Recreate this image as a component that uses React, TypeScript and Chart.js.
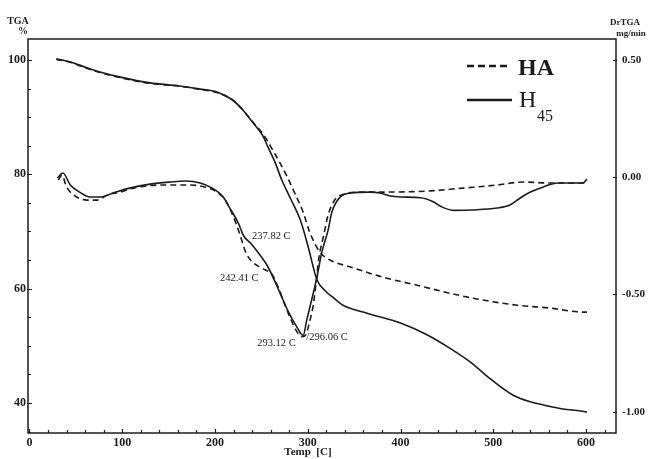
import React, { useEffect, useRef } from "react";
import { Chart, registerables } from "chart.js";

Chart.register(...registerables);

// ---- Data ----
// TGA (left axis, %)
const tgaH45Temp = [29, 44, 54, 76, 98, 130, 162, 184, 202, 219, 230, 241, 251, 257, 265, 272, 281, 292, 300, 310, 319, 327, 338, 364, 400, 429, 453, 475, 497, 521, 540, 558, 575, 594, 601];
const tgaH45Values = [100.2, 99.65, 99.1, 97.9, 97.0, 96.0, 95.45, 94.9, 94.4, 93.0, 91.25, 89.0, 86.9, 84.8, 82.0, 79.0, 75.9, 72.0, 67.6, 61.5, 59.6, 58.5, 57.1, 55.7, 54.0, 51.9, 49.6, 47.2, 44.2, 41.4, 40.2, 39.5, 38.95, 38.6, 38.4];

const tgaHaTemp = [29, 44, 54, 76, 98, 130, 162, 184, 202, 219, 230, 241, 251, 256, 262, 270, 278, 286, 295, 302, 308, 313, 324, 346, 381, 418, 453, 489, 526, 561, 597, 601];
const tgaHaValues = [100.1, 99.6, 99.0, 97.8, 96.9, 95.9, 95.4, 94.85, 94.3, 93.0, 91.3, 89.1, 87.2, 86.0, 84.3, 82.0, 79.5, 76.7, 73.4, 69.9, 67.8, 66.4, 65.0, 63.8, 62.0, 60.6, 59.2, 58.0, 57.1, 56.6, 55.9, 55.9];

// DrTGA (right axis, mg/min)
const dtgH45Temp = [30, 36, 44, 54, 65, 76, 90, 108, 130, 152, 168, 184, 197, 208, 216, 225, 231, 238, 246, 257, 270, 279, 288, 295, 299, 305, 310, 315, 322, 326, 335, 346, 367, 378, 389, 400, 422, 434, 445, 458, 478, 504, 518, 529, 540, 554, 569, 583, 597, 601];
const dtgH45Values = [-0.004, 0.017, -0.034, -0.064, -0.085, -0.085, -0.068, -0.047, -0.03, -0.021, -0.017, -0.025, -0.047, -0.081, -0.132, -0.195, -0.251, -0.28, -0.319, -0.382, -0.493, -0.573, -0.637, -0.675, -0.607, -0.51, -0.425, -0.323, -0.225, -0.149, -0.085, -0.068, -0.064, -0.068, -0.081, -0.085, -0.088, -0.103, -0.128, -0.142, -0.14, -0.132, -0.119, -0.089, -0.064, -0.042, -0.025, -0.025, -0.025, -0.008];

const dtgHaTemp = [31, 35, 40, 51, 62, 73, 84, 98, 112, 141, 173, 189, 200, 211, 219, 227, 233, 240, 246, 254, 261, 268, 274, 281, 287, 294, 298, 302, 306, 309, 312, 317, 322, 329, 340, 356, 378, 432, 467, 504, 532, 558, 575, 597, 601];
const dtgHaValues = [-0.013, 0.008, -0.042, -0.085, -0.098, -0.098, -0.076, -0.064, -0.047, -0.034, -0.034, -0.042, -0.059, -0.098, -0.161, -0.246, -0.319, -0.361, -0.378, -0.395, -0.412, -0.467, -0.531, -0.599, -0.65, -0.68, -0.671, -0.616, -0.544, -0.45, -0.344, -0.251, -0.161, -0.098, -0.072, -0.064, -0.064, -0.059, -0.047, -0.034, -0.021, -0.025, -0.025, -0.025, -0.017];

const xTickLabels = ["0", "100", "200", "300", "400", "500", "600"];
const leftTickLabels = ["40", "60", "80", "100"];
const rightTickLabels = ["-1.00", "-0.50", "0.00", "0.50"];

// annotation labels: [text, temperature, DrTGA value]
const peakLabels: [string, number, number][] = [
  ["237.82 C", 240, -0.251],
  ["242.41 C", 205.5, -0.43],
  ["293.12 C", 245.5, -0.707],
  ["/296.06 C", 298.5, -0.681],
];

const toPoints = (t: number[], v: number[]) => t.map((x, i) => ({ x, y: v[i] }));

const INK = "#1c1c1c";
const SERIF = "'Liberation Serif', 'DejaVu Serif', serif";

const decorPlugin = {
  id: "decor",
  afterDraw(chart: any) {
    const { ctx, chartArea: a, scales } = chart;
    const xs = scales.x, yl = scales.y, yr = scales.y1;
    ctx.save();
    ctx.strokeStyle = INK;
    ctx.lineWidth = 1.5;
    ctx.strokeRect(a.left, a.top, a.right - a.left, a.bottom - a.top);

    ctx.lineWidth = 1.2;
    ctx.beginPath();
    for (let v = 0; v <= 620; v += 20) {
      const px = Math.round(xs.getPixelForValue(v)) + 0.5;
      const len = v % 100 === 0 ? 4 : 3;
      ctx.moveTo(px, a.bottom);
      ctx.lineTo(px, a.bottom - len);
    }
    for (let v = 35; v <= 100; v += 5) {
      const py = Math.round(yl.getPixelForValue(v)) + 0.5;
      const major = v % 20 === 0;
      ctx.moveTo(a.left - (major ? 1 : 0), py);
      ctx.lineTo(a.left + (major ? 4 : 3), py);
    }
    for (let v = -1; v <= 0.5; v += 0.5) {
      const py = Math.round(yr.getPixelForValue(v)) + 0.5;
      ctx.moveTo(a.right - 3, py);
      ctx.lineTo(a.right + 1, py);
    }
    ctx.stroke();

    ctx.fillStyle = INK;
    ctx.textBaseline = "middle";
    ctx.textAlign = "center";
    ctx.font = `bold 10px ${SERIF}`;
    ctx.fillText("TGA", 18, 21);
    ctx.fillText("%", 23, 31);
    ctx.font = `bold 9px ${SERIF}`;
    ctx.fillText("DrTGA", 625, 23);
    ctx.fillText("mg/min", 631, 34);

    ctx.font = `bold 11px ${SERIF}`;
    ctx.fillText("Temp  [C]", 308, 452);

    // peak annotations
    ctx.textAlign = "left";
    ctx.font = `10.5px ${SERIF}`;
    for (const [txt, t, v] of peakLabels) {
      ctx.fillText(txt, xs.getPixelForValue(t), yr.getPixelForValue(v));
    }

    // legend
    ctx.lineWidth = 2.4;
    ctx.setLineDash([7, 4]);
    ctx.beginPath();
    ctx.moveTo(467, 66);
    ctx.lineTo(511, 66);
    ctx.stroke();
    ctx.setLineDash([]);
    ctx.beginPath();
    ctx.moveTo(467, 100);
    ctx.lineTo(512, 100);
    ctx.stroke();
    ctx.textBaseline = "alphabetic";
    ctx.font = `bold 24px ${SERIF}`;
    ctx.fillText("HA", 518, 75);
    ctx.font = `24px ${SERIF}`;
    ctx.fillText("H", 519, 107);
    ctx.font = `16px ${SERIF}`;
    ctx.fillText("45", 537, 121);
    ctx.restore();
  },
};

export default function App() {
  const ref = useRef<HTMLCanvasElement>(null);
  useEffect(() => {
    const tickFont = { family: SERIF, size: 12, weight: "bold" as const };
    const line = (data: any[], axis: string, dashed: boolean) => ({
      data,
      yAxisID: axis,
      borderColor: INK,
      borderWidth: 1.6,
      borderDash: dashed ? [6, 4] : [],
      pointRadius: 0,
      fill: false,
      cubicInterpolationMode: "monotone",
    });
    const chart = new Chart(ref.current as HTMLCanvasElement, {
      type: "line",
      data: {
        datasets: [
          line(toPoints(tgaHaTemp, tgaHaValues), "y", true),
          line(toPoints(tgaH45Temp, tgaH45Values), "y", false),
          line(toPoints(dtgHaTemp, dtgHaValues), "y1", true),
          line(toPoints(dtgH45Temp, dtgH45Values), "y1", false),
        ] as any,
      },
      options: {
        responsive: false,
        animation: false,
        parsing: false as any,
        layout: { padding: { top: 39, left: 0, right: 0, bottom: 0 } },
        plugins: { legend: { display: false }, tooltip: { enabled: false } },
        scales: {
          x: {
            type: "linear",
            position: "bottom",
            min: -1.6,
            max: 632.3,
            afterFit: (s: any) => { s.height = 26; },
            grid: { display: false, drawTicks: false },
            border: { display: false },
            ticks: {
              stepSize: 100,
              includeBounds: false,
              autoSkip: false,
              maxRotation: 0,
              padding: 3,
              color: INK,
              font: tickFont,
              callback: (v: any) => {
                const i = Math.round(Number(v) / 100);
                return Math.abs(Number(v) - i * 100) < 1e-6 && xTickLabels[i] ? xTickLabels[i] : "";
              },
            },
          },
          y: {
            type: "linear",
            position: "left",
            min: 34.75,
            max: 103.67,
            afterFit: (s: any) => { s.width = 28; },
            grid: { display: false, drawTicks: false },
            border: { display: false },
            ticks: {
              stepSize: 20,
              includeBounds: false,
              autoSkip: false,
              padding: 2,
              color: INK,
              font: tickFont,
              callback: (v: any) => {
                const i = Math.round((Number(v) - 40) / 20);
                return Math.abs(Number(v) - (40 + i * 20)) < 1e-6 && leftTickLabels[i] ? leftTickLabels[i] : "";
              },
            },
          },
          y1: {
            type: "linear",
            position: "right",
            min: -1.09,
            max: 0.588,
            afterFit: (s: any) => { s.width = 32; },
            grid: { display: false, drawTicks: false },
            border: { display: false },
            ticks: {
              stepSize: 0.5,
              includeBounds: false,
              autoSkip: false,
              padding: 6,
              color: INK,
              font: { family: SERIF, size: 11, weight: "bold" as const },
              callback: (v: any) => {
                const i = Math.round((Number(v) + 1) / 0.5);
                return Math.abs(Number(v) - (-1 + i * 0.5)) < 1e-6 && rightTickLabels[i] ? rightTickLabels[i] : "";
              },
            },
          },
        },
      } as any,
      plugins: [decorPlugin],
    });
    return () => chart.destroy();
  }, []);
  return (
    <div style={{ position: "absolute", left: 0, top: 0, width: 648, height: 459, background: "#fff" }}>
      <canvas ref={ref} width={648} height={459} style={{ display: "block" }} />
    </div>
  );
}
